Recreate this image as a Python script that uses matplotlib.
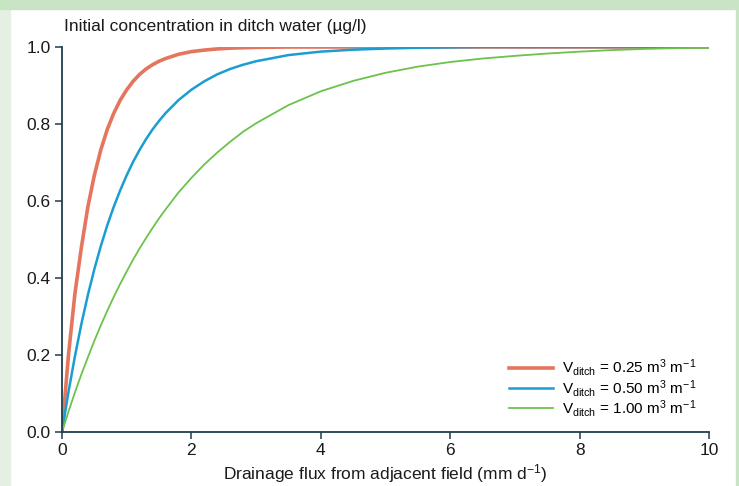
import numpy as np
import matplotlib.pyplot as plt
from matplotlib.patches import Rectangle

plt.rcParams['font.family'] = ['Liberation Sans', 'DejaVu Sans']
plt.rcParams['mathtext.default'] = 'regular'

# drainage flux (mm/d) and relative concentration
flux = [0, 0.1, 0.2, 0.3, 0.4, 0.5, 0.6, 0.7, 0.8, 0.9, 1.0, 1.1, 1.2, 1.3, 1.4, 1.5, 1.6,
        1.8, 2.0, 2.2, 2.4, 2.6, 2.8, 3.0,
        3.5, 4.0, 4.5, 5.0, 5.5, 6.0, 6.5, 7.0, 7.5, 8.0, 8.5, 9.0, 9.5, 10.0]
conc_025 = [0, 0.20, 0.36, 0.48, 0.585, 0.667, 0.733, 0.786, 0.828, 0.862, 0.889, 0.911,
            0.929, 0.943, 0.954, 0.963, 0.970,
            0.981, 0.988, 0.992, 0.995, 0.997, 0.998, 0.999,
            1.0, 1.0, 1.0, 1.0, 1.0, 1.0, 1.0, 1.0, 1.0, 1.0, 1.0, 1.0, 1.0, 1.0]
conc_050 = [0, 0.104, 0.197, 0.281, 0.356, 0.423, 0.483, 0.537, 0.585, 0.628, 0.667, 0.702,
            0.733, 0.761, 0.786, 0.808, 0.828,
            0.862, 0.889, 0.911, 0.929, 0.943, 0.954, 0.963,
            0.979, 0.988, 0.993, 0.996, 0.998, 0.999, 1.0, 1.0, 1.0, 1.0, 1.0, 1.0, 1.0, 1.0]
conc_100 = [0, 0.053, 0.103, 0.15, 0.194, 0.237, 0.277, 0.315, 0.351, 0.385, 0.417, 0.448,
            0.477, 0.504, 0.530, 0.555, 0.578,
            0.622, 0.660, 0.695, 0.726, 0.754, 0.780, 0.802,
            0.849, 0.885, 0.912, 0.933, 0.949, 0.961, 0.970, 0.977, 0.983, 0.988, 0.992,
            0.995, 0.997, 0.998]
labels = [r'V$_{ditch}$ = 0.25 m$^3$ m$^{-1}$',
          r'V$_{ditch}$ = 0.50 m$^3$ m$^{-1}$',
          r'V$_{ditch}$ = 1.00 m$^3$ m$^{-1}$']
colors = ['#e5765e', '#1a9ed2', '#6cc24a']
widths = [2.6, 1.8, 1.3]

fig = plt.figure(figsize=(7.39, 4.86), dpi=100)
fig.add_artist(Rectangle((0, 0), 10/739, 1, transform=fig.transFigure, color='#e4f1e2', zorder=0))
fig.add_artist(Rectangle((0, 1 - 9/486), 1, 9/486, transform=fig.transFigure, color='#c8e4c4', zorder=0))
fig.add_artist(Rectangle((736/739, 0), 3/739, 1, transform=fig.transFigure, color='#c8e4c4', zorder=0))

ax = fig.add_axes([0.0839, 0.1111, 0.8755, 0.7922])
for y, lab, c, w in zip([conc_025, conc_050, conc_100], labels, colors, widths):
    ax.plot(flux, y, color=c, lw=w, label=lab)

ax.set_xlim(0, 10)
ax.set_ylim(0, 1.0)
ax.set_xticks([0, 2, 4, 6, 8, 10])
ax.set_yticks([0, 0.2, 0.4, 0.6, 0.8, 1.0])
ax.yaxis.set_major_formatter(plt.FormatStrFormatter('%.1f'))
for s in ['top', 'right']:
    ax.spines[s].set_visible(False)
for s in ['left', 'bottom']:
    ax.spines[s].set_color('#1f3d4c')
    ax.spines[s].set_linewidth(1.3)
ax.tick_params(direction='out', length=5, width=1.1, color='#1f3d4c',
               labelsize=12.5, labelcolor='#1a1a1a', pad=3)

ax.set_xlabel(r'Drainage flux from adjacent field (mm d$^{-1}$)', fontsize=12.5, color='#1a1a1a', labelpad=3)
ax.text(0.003, 1.035, u'Initial concentration in ditch water (\u00b5g/l)', transform=ax.transAxes,
        fontsize=12.5, color='#1a1a1a', ha='left', va='bottom')

leg = ax.legend(loc='lower right', bbox_to_anchor=(0.992, 0.015), frameon=False, fontsize=11,
                handlelength=2.9, handletextpad=0.55, labelspacing=-0.06, borderpad=0)

fig.savefig('out.png', dpi=100, facecolor='white')
